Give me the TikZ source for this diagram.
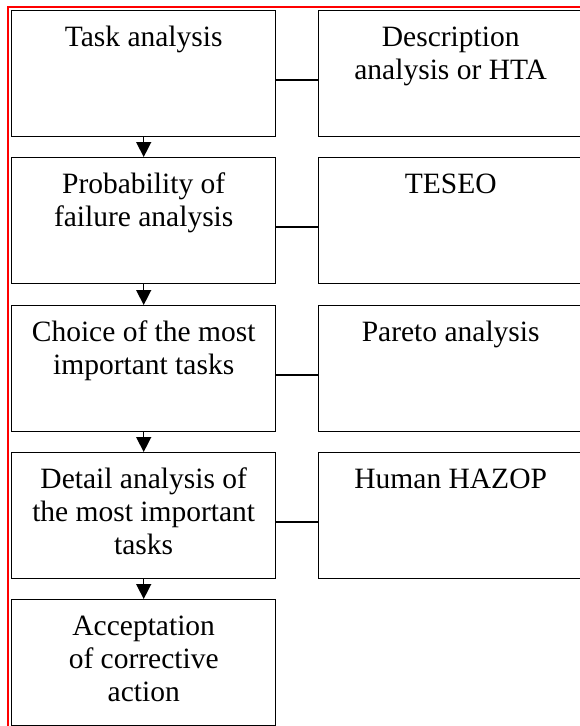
\documentclass[tikz,border=0pt]{standalone}
\usepackage{fontspec}
\setmainfont{Liberation Serif}
\usetikzlibrary{arrows.meta}
\newcommand{\boxtxt}[1]{\parbox[c][126pt][t]{264pt}{\centering\rule{0pt}{35.5pt}#1}}
\tikzset{
  stepbox/.style={draw, line width=1.4pt, inner sep=0pt, anchor=north west,
    font=\fontsize{29.5}{33}\selectfont},
  link/.style={line width=1.1pt},
  flow/.style={line width=1.4pt, -{Triangle[width=15pt,length=15pt]}},
  frame/.style={draw=red, line width=1.6pt}
}
\begin{document}
\begin{tikzpicture}
\useasboundingbox (0pt,0pt) rectangle (580pt,-726pt);
\clip (0pt,0pt) rectangle (580pt,-726pt);
\coordinate (fa) at (8pt,-740pt);
\coordinate (fb) at (8pt,-7pt);
\coordinate (fc) at (600pt,-7pt);
\draw[frame] (fa) -- (fb) -- (fc);
% left column
\node[stepbox] (l1) at (11pt,-10pt) {\boxtxt{Task analysis}};
\node[stepbox] (l2) at (11pt,-157pt) {\boxtxt{Probability of\\failure analysis}};
\node[stepbox] (l3) at (11pt,-305pt) {\boxtxt{Choice of the most\\important tasks}};
\node[stepbox] (l4) at (11pt,-452pt) {\boxtxt{Detail analysis of\\the most important\\tasks}};
\node[stepbox] (l5) at (11pt,-599pt) {\boxtxt{Acceptation\\of corrective\\action}};
% right column
\node[stepbox] (r1) at (318pt,-10pt) {\boxtxt{Description\\analysis or HTA}};
\node[stepbox] (r2) at (318pt,-157pt) {\boxtxt{TESEO}};
\node[stepbox] (r3) at (318pt,-305pt) {\boxtxt{Pareto analysis}};
\node[stepbox] (r4) at (318pt,-452pt) {\boxtxt{Human HAZOP}};
% arrows
\draw[flow] (l1.south) -- (l2.north);
\draw[flow] (l2.south) -- (l3.north);
\draw[flow] (l3.south) -- (l4.north);
\draw[flow] (l4.south) -- (l5.north);
% links
\foreach \i in {1,2,3,4}{
  \draw[link] ([yshift=-70pt]l\i.north east) -- ([yshift=-70pt]r\i.north west);
}
\end{tikzpicture}
\end{document}
